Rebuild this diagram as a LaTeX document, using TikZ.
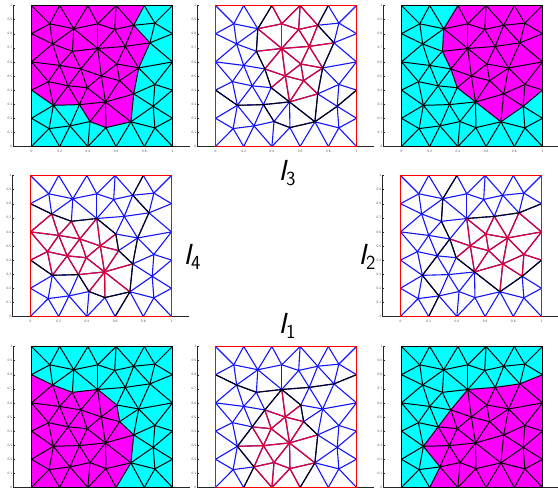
\documentclass[tikz,border=0pt]{standalone}
\usepackage{amsmath}
\definecolor{meshblue}{RGB}{20, 20, 255}
\definecolor{meshred}{RGB}{225, 0, 50}
\definecolor{panelcyan}{RGB}{0, 255, 255}
\definecolor{panelmagenta}{RGB}{255, 0, 255}
\definecolor{framered}{RGB}{255, 0, 0}
\tikzset{
  axisline/.style={black!85, line width=0.8pt},
  ticklab/.style={inner sep=0pt, font=\fontsize{3.4}{3.4}\sffamily, text=black!70},
  meshblack/.style={black, line width=1pt},
  bluewire/.style={meshblue, line width=1.1pt},
  redwire/.style={meshred, line width=1.2pt},
  ifacewire/.style={black, line width=1.15pt, dash pattern=on 4pt off 0.5pt},
  domlabel/.style={inner sep=0pt}
}
% mesh vertices in the unit square
\newcommand{\meshpoints}{
  \foreach \n/\X/\Y in {B0/0/0, B1/.2/0, B2/.4/0, B3/.6/0, B4/.8/0, B5/1/0,
      T0/0/1, T1/.2/1, T2/.4/1, T3/.6/1, T4/.8/1, T5/1/1,
      L1/0/.2, L2/0/.4, L3/0/.6, L4/0/.8, R1/1/.2, R2/1/.4, R3/1/.6, R4/1/.8,
      a/.13/.87, b/.30/.835, c/.47/.87, d/.59/.83, e/.725/.86, f/.875/.875,
      g/.15/.727, h/.29/.675, i/.47/.695, j/.665/.71, k/.84/.735,
      l/.2/.575, m/.35/.55, n/.605/.585, o/.76/.557, p/.495/.50,
      q/.12/.46, r/.26/.43, s/.395/.417, t/.625/.467, u/.875/.44, v/.725/.373,
      w/.155/.292, x/.34/.297, y/.525/.316, z/.863/.285,
      A/.125/.127, B/.273/.146, C/.415/.177, D/.528/.134, E/.705/.175, F/.875/.132} {
    \coordinate (\n) at (\X,\Y);
  }
}
\newcommand{\meshedges}{T0/a, a/T1, T1/b, b/T2, T2/c, c/T3, T3/d, T3/e, T4/e, T4/f, T5/f, f/R4,
  a/b, b/c, c/d, d/e, e/f, a/L4, a/g, b/g, b/h, b/i, c/i, d/i, d/j, e/j, e/k, f/k, k/R4,
  L4/g, g/h, h/i, i/j, j/k, g/L3, g/l, h/l, h/m, i/m, i/p, i/n, j/n, j/o, k/o, k/R3,
  L3/l, l/m, m/p, p/n, n/o, o/R3, L3/q, l/q, l/r, m/r, m/s, p/s, p/y, p/t, n/t, o/t, o/v, o/u,
  R3/u, q/r, r/s, t/v, t/y, y/v, v/u, v/z, u/z, u/R2, R2/z, z/R1, z/F, F/R1,
  q/L2, q/w, r/w, r/x, s/x, s/y, L2/w, w/x, x/y, x/C, y/C, y/D, y/E, v/E, z/E, E/F, D/E, C/D,
  B/C, x/B, w/B, w/A, A/B, w/L1, A/L1, A/B0, A/B1, B/B1, B/B2, C/B2, D/B2, D/B3, E/B3, E/B4,
  F/B4, F/B5}
% the bottom row has no room for its x labels
\newcommand{\panelaxes}[1]{
  \draw[axisline] (-.125,1) -- (-.125,0) -- (1.125,0);
  \foreach \t in {0, 0.1, 0.2, 0.3, 0.4, 0.5, 0.6, 0.7, 0.8, 0.9, 1} {
    \draw[axisline, line width=0.3pt] (-.125,\t) -- ++(1.5pt,0pt);
    \node[ticklab, anchor=east] (yt) at ([xshift=-1.5pt]-.125,\t) {\t};
  }
  \ifdim#1pt>100pt
    \foreach \t in {0, 0.2, 0.4, 0.6, 0.8, 1} {
      \node[ticklab] (xt) at ([yshift=-4.5pt]\t,0) {\t};
    }
  \fi
}
% left, bottom, magenta polygon
\newcommand{\colourpanel}[3]{
  \begin{scope}[shift={(#1,#2)}, x=141pt, y=141pt]
    \meshpoints
    \panelaxes{#2}
    \fill[panelcyan] (0,0) rectangle (1,1);
    \fill[panelmagenta] #3;
    \foreach \p/\q in \meshedges {
      \draw[meshblack] (\p) -- (\q);
    }
    \draw[meshblack] (0,0) rectangle (1,1);
  \end{scope}
}
% left, bottom, red edges, interface paths
\newcommand{\wirepanel}[4]{
  \begin{scope}[shift={(#1,#2)}, x=141pt, y=141pt]
    \meshpoints
    \panelaxes{#2}
    \foreach \p/\q in \meshedges {
      \draw[bluewire] (\p) -- (\q);
    }
    \foreach \p/\q in {#3} {
      \draw[redwire] (\p) -- (\q);
    }
    \draw[ifacewire] #4;
    \draw[framered, line width=1pt] (0,0) rectangle (1,1);
  \end{scope}
}
\begin{document}
\begin{tikzpicture}[x=1pt, y=1pt]
  \useasboundingbox (0,0) rectangle (558,489);

  \colourpanel{31.5}{342.5}{(T0) -- (T4) -- (e) -- (k) -- (o) -- (v) -- (E) -- (D) -- (C) -- (x) -- (w) -- (L2) -- cycle}
  \wirepanel{215.5}{342.5}{T2/c, T3/c, T3/d, T3/e, b/c, b/i, h/i, c/d, c/i, d/e, d/i, d/j, e/j, i/j, j/k, j/o, j/n,
      i/n, i/m, i/p, m/p, p/s, p/y, p/t, p/n, n/t, n/o, o/t, t/v, t/y, y/v}
    {(T2) -- (b) -- (h) -- (m) -- (s) -- (y) -- (E) -- (z) -- (R2)
     (L2) -- (w) -- (x) -- (y) (x) -- (C) -- (D) -- (E)
     (E) -- (v) -- (o) -- (k) -- (e) -- (T4)}
  \colourpanel{401.5}{342.5}{(T2) -- (b) -- (h) -- (m) -- (s) -- (y) -- (E) -- (z) -- (R2) -- (T5) -- cycle}

  \wirepanel{30.5}{172.5}{L3/g, L3/l, L3/q, L2/q, g/l, h/l, h/m, i/m, i/p, p/n, p/t, p/y, p/s, m/p, l/m, l/q, l/r,
      m/r, m/s, q/r, q/w, r/w, r/x, r/s, s/x, s/y, x/y, y/C, y/D, y/E, y/v, y/t}
    {(L4) -- (g) -- (h) -- (i) -- (n) -- (t) -- (v) -- (E) -- (D) -- (C) -- (x) -- (w) -- (L2)
     (T4) -- (e) -- (k) -- (o) -- (v) (E) -- (B3)}
  \wirepanel{400.5}{172.5}{i/p, i/n, j/n, j/o, k/o, k/R3, o/R3, n/o, n/p, n/t, p/t, o/t, o/v, o/u, u/R3, u/R2, u/z, u/v,
      v/z, v/E, v/t, v/y, t/y, p/y, p/s, m/p}
    {(T2) -- (b) -- (h) -- (m) -- (s) -- (y) -- (E) -- (z) -- (R2)
     (m) -- (r) -- (w) -- (B) -- (B1) (i) -- (j) -- (k) -- (R4)}

  \colourpanel{31.5}{1.5}{(L4) -- (g) -- (h) -- (i) -- (n) -- (t) -- (v) -- (E) -- (B3) -- (B0) -- cycle}
  \wirepanel{215.5}{1.5}{i/p, p/n, p/t, m/p, p/s, p/y, m/s, r/s, r/x, s/x, s/y, w/x, x/B, x/C, x/y, y/t, y/v, y/E, y/D,
      y/C, B/C, C/D, D/E, B/B2, C/B2, D/B2, D/B3}
    {(L4) -- (g) -- (h) -- (i) -- (j) -- (k) -- (R4)
     (i) -- (n) -- (t) -- (v) -- (E) -- (B3)
     (i) -- (m) -- (r) -- (w) -- (B) -- (B1)}
  \colourpanel{401.5}{1.5}{(R4) -- (k) -- (j) -- (i) -- (m) -- (r) -- (w) -- (B) -- (B1) -- (B5) -- cycle}

  \newcommand{\domname}[1]{{\fontsize{29}{29}\sffamily\itshape I}\raisebox{-5pt}{\fontsize{20}{20}\sffamily #1}}
  \node[domlabel] (Ithree) at (287,316) {\domname{3}};
  \node[domlabel] (Ifour) at (192,232) {\domname{4}};
  \node[domlabel] (Itwo) at (367,232) {\domname{2}};
  \node[domlabel] (Ione) at (287,163) {\domname{1}};
\end{tikzpicture}
\end{document}
